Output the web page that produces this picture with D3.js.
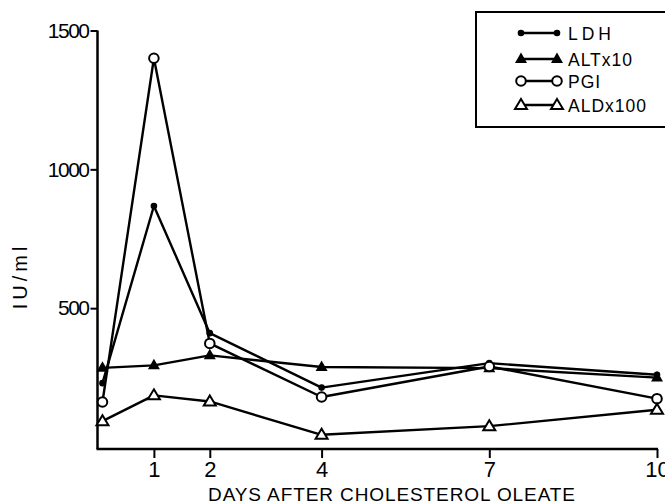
<!DOCTYPE html>
<html>
<head>
<meta charset="utf-8">
<script src="https://cdn.jsdelivr.net/npm/d3@7"></script>
<style>
  body { margin: 0; background: #fff; }
  text { font-family: "Liberation Sans", Arial, sans-serif; fill: #000; }
</style>
</head>
<body>
<svg id="chart" width="665" height="504"></svg>
<script>
// data
var days = [0.08, 1, 2, 4, 7, 10];
var ldh = [230, 868, 410, 214, 302, 260];
var alt = [285, 294, 330, 288, 284, 250];
var pgi = [162, 1400, 373, 180, 290, 174];
var ald = [93, 186, 164, 44, 75, 134];
var xTicks = [1, 2, 4, 7, 10];
var yTicks = [500, 1000, 1500];
var seriesNames = ["LDH", "ALTx10", "PGI", "ALDx100"];

var svg = d3.select("#chart");

var x = d3.scaleLinear().domain([0, 10]).range([98, 657]);
var y = d3.scaleLinear().domain([0, 1500]).range([447, 30.5]);

// y axis
var yAxis = svg.append("g")
  .attr("transform", "translate(97.5,0)")
  .call(d3.axisLeft(y).tickValues(yTicks).tickFormat(d3.format("d"))
    .tickSize(7).tickPadding(2).tickSizeOuter(0));
yAxis.select(".domain").attr("d", "M0," + y(1500) + "V449").attr("stroke-width", 2.5);
yAxis.selectAll(".tick line").attr("stroke-width", 2);
yAxis.selectAll("text").style("font-size", "21px").attr("letter-spacing", "-1.5px");

// x axis
var xAxis = svg.append("g")
  .attr("transform", "translate(0,449)")
  .call(d3.axisBottom(x).tickValues(xTicks).tickSize(9).tickPadding(3).tickSizeOuter(0));
xAxis.select(".domain").attr("d", "M96.5,0H658").attr("stroke-width", 2.5);
xAxis.selectAll(".tick line").attr("stroke-width", 2);
xAxis.selectAll("text").style("font-size", "22px");

// axis titles
svg.append("text")
  .attr("x", 208).attr("y", 501)
  .attr("textLength", 367)
  .style("font-size", "19px")
  .text("DAYS  AFTER  CHOLESTEROL  OLEATE");

svg.append("text")
  .attr("transform", "translate(27,276)rotate(-90)")
  .attr("text-anchor", "middle")
  .attr("letter-spacing", "4px")
  .style("font-size", "20px")
  .text("IU/ml");

// lines
var line = d3.line()
  .x(function(d, i) { return x(days[i]); })
  .y(function(d) { return y(d); });

var all = [ldh, alt, pgi, ald];
all.forEach(function(s) {
  svg.append("path")
    .datum(s)
    .attr("d", line)
    .attr("fill", "none")
    .attr("stroke", "#000")
    .attr("stroke-width", 2.4)
    .attr("stroke-linejoin", "round");
});

// markers
function drawMarker(g, kind, cx, cy) {
  if (kind == 0) {
    g.append("circle").attr("cx", cx).attr("cy", cy).attr("r", 3.3).attr("fill", "#000");
  } else if (kind == 1) {
    g.append("path")
      .attr("d", "M" + cx + "," + (cy - 6.5) + "L" + (cx + 6) + "," + (cy + 4) + "L" + (cx - 6) + "," + (cy + 4) + "Z")
      .attr("fill", "#000");
  } else if (kind == 2) {
    g.append("circle").attr("cx", cx).attr("cy", cy).attr("r", 4.8)
      .attr("fill", "#fff").attr("stroke", "#000").attr("stroke-width", 2);
  } else {
    g.append("path")
      .attr("d", "M" + cx + "," + (cy - 6) + "L" + (cx + 6) + "," + (cy + 4) + "L" + (cx - 6) + "," + (cy + 4) + "Z")
      .attr("fill", "#fff").attr("stroke", "#000").attr("stroke-width", 2);
  }
}

var marks = svg.append("g");
all.forEach(function(s, k) {
  s.forEach(function(v, i) {
    drawMarker(marks, k, x(days[i]), y(v));
  });
});

// legend
var legend = svg.append("g");
legend.append("path")
  .attr("d", "M680,12H476V127H680")
  .attr("fill", "none")
  .attr("stroke", "#000")
  .attr("stroke-width", 2);

var legendY = [33, 59, 81, 105];
seriesNames.forEach(function(name, k) {
  var ly = legendY[k];
  legend.append("line")
    .attr("x1", 521).attr("x2", 557)
    .attr("y1", ly).attr("y2", ly)
    .attr("stroke", "#000").attr("stroke-width", 2.4);
  drawMarker(legend, k, 521, ly);
  drawMarker(legend, k, 557, ly);
  legend.append("text")
    .attr("x", 568).attr("y", ly + 6.5)
    .attr("letter-spacing", k == 0 ? "4px" : "1px")
    .style("font-size", "17.5px")
    .text(name);
});
</script>
</body>
</html>
